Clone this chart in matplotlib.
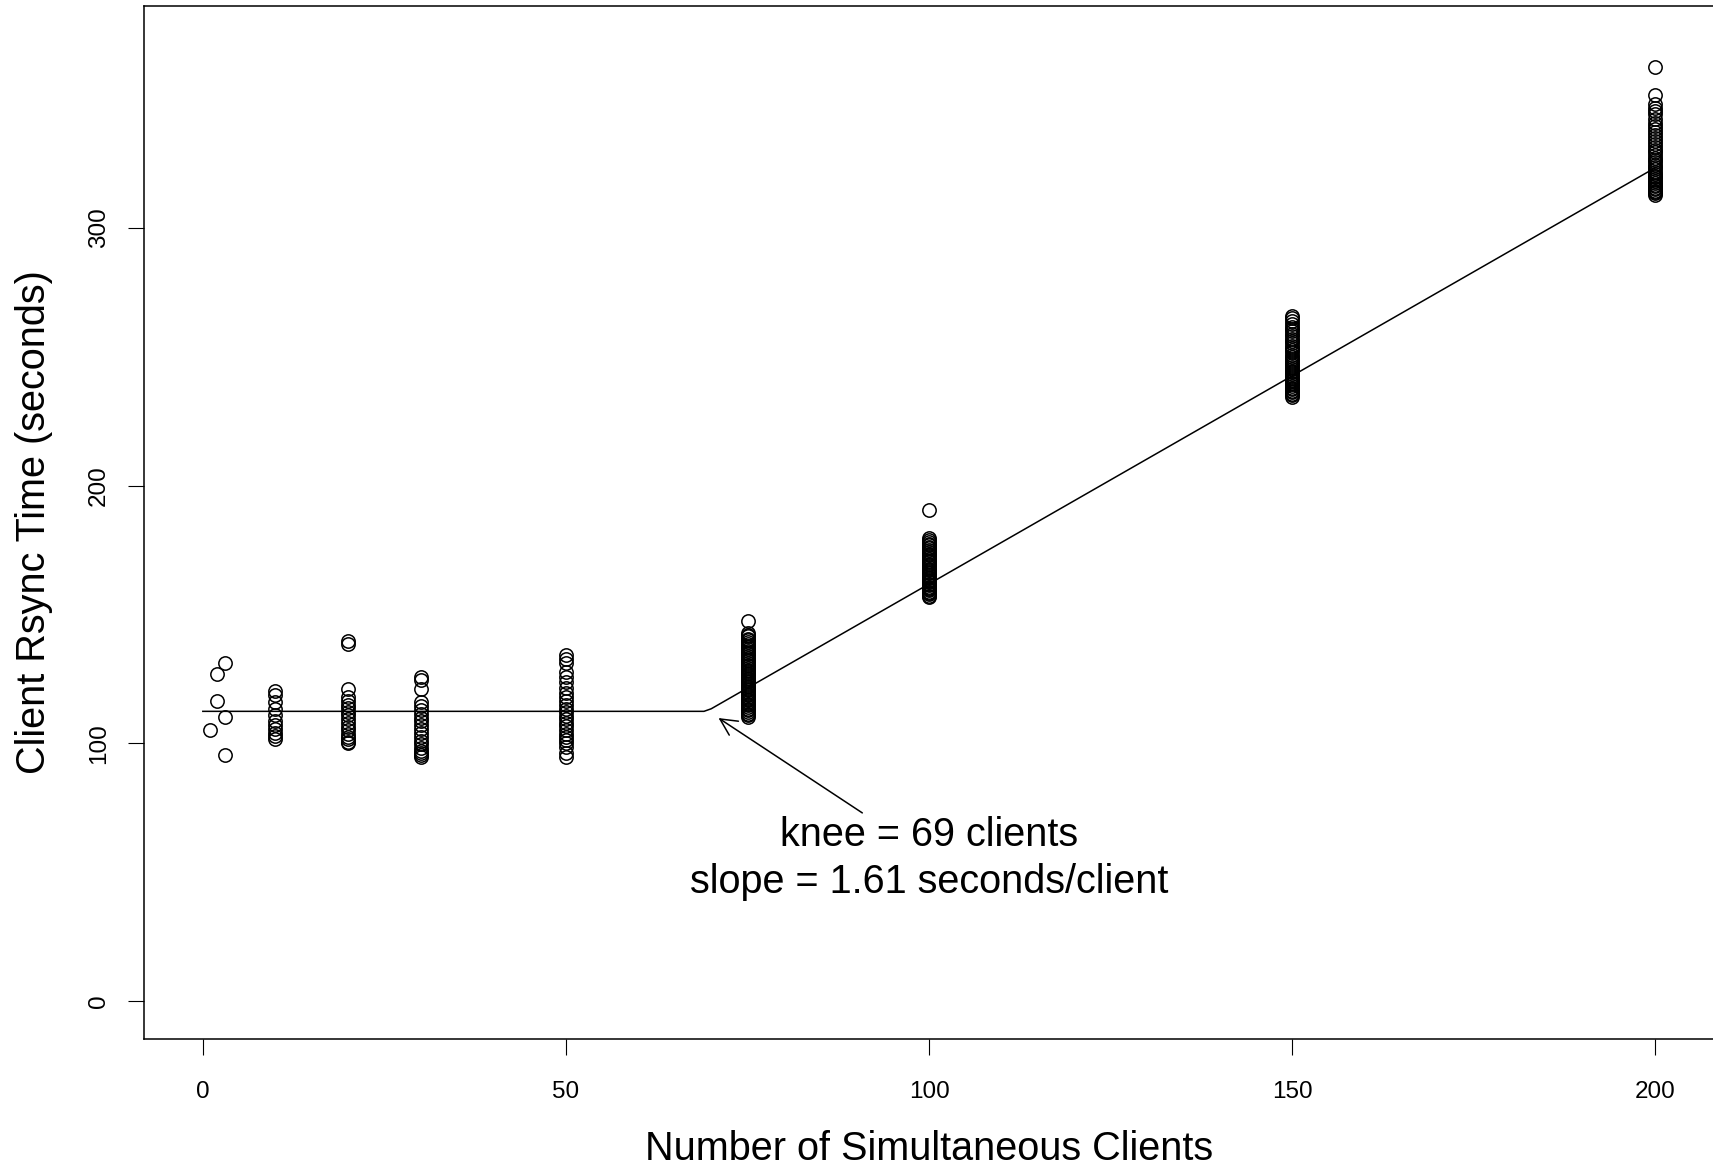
import matplotlib
matplotlib.use("Agg")
import matplotlib.pyplot as plt

plt.rcParams['font.family'] = ['Liberation Sans', 'DejaVu Sans']

# ---- data ----
x1 = [1]
y1 = [105.2]
x2 = [2, 2]
y2 = [126.9, 116.4]
x3 = [3, 3, 3]
y3 = [131.2, 110.2, 95.5]

y10 = [120.3, 118.6, 116.2, 113.5, 111.0, 108.7, 107.2, 105.4, 104.0, 102.8, 101.7]
y20 = [139.5, 138.4, 121.0, 117.9, 116.5, 115.0, 113.8, 112.2, 110.9, 109.3, 107.8,
       106.5, 105.0, 103.8, 102.6, 101.5, 100.6, 100.1]
y30 = [125.7, 124.4, 121.0, 116.0, 114.6, 112.8, 111.5, 110.0, 108.7, 107.1, 105.6,
       104.0, 102.5, 101.0, 99.6, 98.3, 97.2, 96.2, 95.4, 94.7]
y50 = [134.3, 132.8, 131.0, 127.6, 125.9, 123.8, 121.5, 119.6, 118.0, 116.4, 114.9,
       113.5, 112.0, 110.7, 109.3, 108.0, 106.6, 105.2, 103.8, 102.5, 101.2, 100.0,
       98.6, 96.2, 94.7]
y75 = [147.5, 142.8, 142.0, 141.5, 140.6, 140.0, 139.2, 138.7, 137.9, 137.2, 136.4,
       135.8, 135.1, 134.5, 133.7, 133.0, 132.4, 131.8, 131.1, 130.5, 129.8, 129.2,
       128.6, 128.0, 127.4, 126.8, 126.1, 125.5, 124.9, 124.3, 123.6, 123.0, 122.4,
       121.8, 121.1, 120.5, 119.9, 119.2, 118.6, 118.0, 117.3, 116.7, 116.0, 115.4,
       114.7, 114.1, 113.4, 112.8, 112.1, 111.5, 110.9, 110.3]
y100 = [190.5, 179.6, 178.9, 178.2, 177.5, 176.9, 176.2, 175.6, 174.9, 174.2, 173.5,
        172.9, 172.2, 171.6, 170.9, 170.3, 169.6, 169.0, 168.3, 167.7, 167.1, 166.5,
        165.9, 165.3, 164.7, 164.1, 163.5, 163.0, 162.4, 161.9, 161.3, 160.8, 160.3,
        159.8, 159.3, 158.8, 158.3, 157.8, 157.3, 156.9]
y150 = [265.8, 264.9, 264.0, 262.7, 261.5, 260.6, 259.8, 258.8, 257.9, 256.9, 256.0,
        255.1, 254.2, 253.3, 252.5, 251.6, 250.8, 250.0, 249.2, 248.4, 247.6, 246.8,
        246.1, 245.3, 244.6, 243.9, 243.2, 242.5, 241.8, 241.1, 240.5, 239.8, 239.2,
        238.6, 238.0, 237.4, 236.8, 236.2, 235.6, 235.0, 234.5]
y200 = [362.4, 351.6, 347.8, 346.3, 345.1, 344.0, 342.2, 340.5, 339.4, 338.4, 337.2,
        336.0, 334.8, 333.6, 332.5, 331.4, 330.3, 329.3, 328.2, 327.2, 326.2, 325.3,
        324.4, 323.5, 322.6, 321.8, 321.0, 320.2, 319.5, 318.8, 318.1, 317.4, 316.7,
        316.1, 315.5, 314.9, 314.3, 313.8, 313.3, 312.8]

col_x = [10, 20, 30, 50, 75, 100, 150, 200]
col_y = [y10, y20, y30, y50, y75, y100, y150, y200]

# fitted broken-line model
fit_x = [0, 69, 70, 200]
fit_y = [112.4, 112.4, 113.4, 323.3]

knee_text = "knee = 69 clients\nslope = 1.61 seconds/client"
text_pos = (100, 55.5)
arrow_tail = (90.8, 73.0)
arrow_head = (71.0, 109.8)

xticks = [0, 50, 100, 150, 200]
yticks = [0, 100, 200, 300]

# ---- figure ----
W, H = 1713, 1169
fig = plt.figure(figsize=(W / 100, H / 100), dpi=100)
ax = fig.add_axes([144 / W, 130 / H, (1715 - 144) / W, (1039 - 6) / H])

mk = dict(marker='o', linestyle='none', markerfacecolor='none',
          markeredgecolor='black', markersize=9.6, markeredgewidth=1.1)
ax.plot(x1, y1, **mk)
ax.plot(x2, y2, **mk)
ax.plot(x3, y3, **mk)
for cx, cy in zip(col_x, col_y):
    ax.plot([cx] * len(cy), cy, **mk)

ax.plot(fit_x, fit_y, color='black', linewidth=1.1)

ax.annotate('', xy=arrow_head, xytext=arrow_tail,
            arrowprops=dict(arrowstyle='->', color='black', lw=1.1,
                            mutation_scale=30, shrinkA=0, shrinkB=0))
ax.text(text_pos[0], text_pos[1], knee_text, ha='center', va='center',
        fontsize=28.5, linespacing=1.3)

ax.set_xlim(-8.1, 208.2)
ax.set_ylim(-14.7, 386)

ax.set_xticks(xticks)
ax.set_yticks(yticks)
ax.tick_params(axis='both', direction='out', length=11.5, width=0.8,
               labelsize=17.5, color='black')
ax.tick_params(axis='x', pad=18.5)
ax.tick_params(axis='y', pad=13, labelrotation=90)
for lab in ax.get_yticklabels():
    lab.set_va('center')

for s in ax.spines.values():
    s.set_linewidth(1.1)

ax.set_xlabel('Number of Simultaneous Clients', fontsize=28.5, labelpad=20)
ax.set_ylabel('Client Rsync Time (seconds)', fontsize=28.5, labelpad=25)

fig.savefig('out.png', dpi=100)
